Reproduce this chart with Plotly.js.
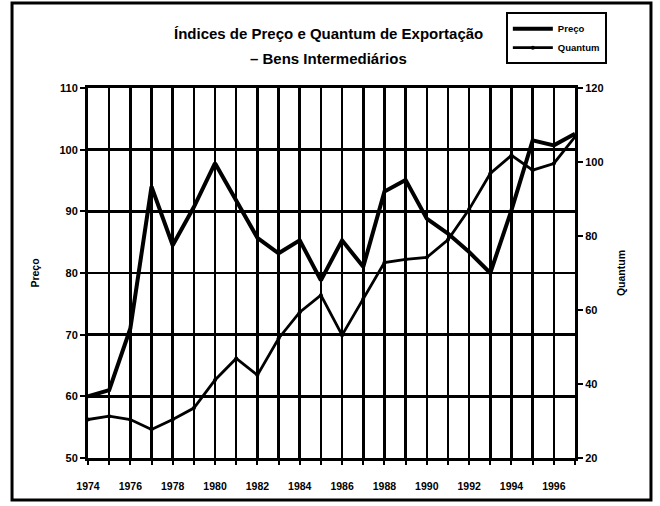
<!DOCTYPE html>
<html>
<head>
<meta charset="utf-8">
<script src="https://cdn.plot.ly/plotly-3.0.1.min.js"></script>
<style>html,body{margin:0;padding:0;background:#fff;}#chart{width:660px;height:506px;}</style>
</head>
<body>
<div id="chart"></div>
<script>
const years = [1974,1975,1976,1977,1978,1979,1980,1981,1982,1983,1984,1985,1986,1987,1988,1989,1990,1991,1992,1993,1994,1995,1996,1997];
const preco = [60,61,71,94,84.5,90.7,97.8,91.7,85.7,83.2,85.3,78.8,85.3,81,93.2,95.1,88.8,86.4,83.4,80,90.2,101.5,100.7,102.6];
const quantum = [30.4,31.3,30.4,27.7,30.4,33.5,41.1,46.9,42.4,52.3,59.4,64,53.2,63,72.8,73.7,74.2,79,87.2,96.9,101.8,97.8,99.6,106.8];
const xTickVals = years;
const xTickText = years.map(y => (y % 2 === 0 && y <= 1996) ? String(y) : '');
const leftTicks = [50,60,70,80,90,100,110];
const rightTicks = [20,40,60,80,100,120];
const titleLines = ['Índices de Preço e Quantum de Exportação', '– Bens Intermediários'];

const fontFam = 'Liberation Sans, Arial, sans-serif';
const traces = [
  {x: years, y: preco, name: 'Preço', type: 'scatter', mode: 'lines',
   line: {color: '#000', width: 4}, yaxis: 'y'},
  {x: years, y: quantum, name: 'Quantum', type: 'scatter', mode: 'lines+markers',
   line: {color: '#000', width: 2.8}, marker: {color: '#000', size: 4}, yaxis: 'y2'}
];
const titleFont = {family: fontFam, size: 15, weight: 'bold', color: '#000'};
const layout = {
  width: 660, height: 506,
  margin: {l: 88, r: 85, t: 88, b: 48},
  paper_bgcolor: '#fff', plot_bgcolor: '#fff',
  font: {family: fontFam, color: '#000', size: 10},
  showlegend: true,
  legend: {x: 0.858, y: 1.205, xanchor: 'left', yanchor: 'top',
           bordercolor: '#000', borderwidth: 2, bgcolor: '#fff',
           itemwidth: 40,
           font: {family: fontFam, size: 9.5, weight: 'bold'}, tracegroupgap: 0},
  annotations: [
    {text: titleLines[0], xref: 'paper', yref: 'paper', x: 0.493, y: 1.1486, xanchor: 'center', yanchor: 'middle',
     showarrow: false, font: titleFont},
    {text: titleLines[1], xref: 'paper', yref: 'paper', x: 0.493, y: 1.081, xanchor: 'center', yanchor: 'middle',
     showarrow: false, font: titleFont}
  ],
  xaxis: {range: [1974, 1997], tickvals: xTickVals, ticktext: xTickText,
          showgrid: true, gridcolor: '#000', gridwidth: 2.5,
          showline: true, linecolor: '#000', linewidth: 3, mirror: true,
          ticks: 'outside', ticklen: 4, tickwidth: 2, tickcolor: '#000', tickangle: 0,
          ticklabelstandoff: 12,
          tickfont: {family: fontFam, size: 10.5, weight: 'bold'}, zeroline: false, fixedrange: true},
  yaxis: {range: [50, 110], tickvals: leftTicks, showgrid: true, gridcolor: '#000', gridwidth: 2.5,
          showline: true, linecolor: '#000', linewidth: 3,
          ticks: 'outside', ticklen: 5, tickwidth: 2, tickcolor: '#000',
          tickfont: {family: fontFam, size: 11, weight: 'bold'}, zeroline: false,
          title: {text: 'Preço', standoff: 18, font: {family: fontFam, size: 10.5, weight: 'bold'}}},
  yaxis2: {range: [20, 120], tickvals: rightTicks, overlaying: 'y', side: 'right', showgrid: false,
          showline: true, linecolor: '#000', linewidth: 3,
          ticks: 'outside', ticklen: 5, tickwidth: 2, tickcolor: '#000',
          tickfont: {family: fontFam, size: 11, weight: 'bold'}, zeroline: false,
          title: {text: 'Quantum', standoff: 16, font: {family: fontFam, size: 10.5, weight: 'bold'}}},
  shapes: [
    {type: 'rect', xref: 'paper', yref: 'paper', x0: -0.156, x1: 1.156, y0: -0.1135, y1: 1.23,
     line: {color: '#000', width: 3}, fillcolor: 'rgba(0,0,0,0)', layer: 'below'}
  ]
};
Plotly.newPlot('chart', traces, layout, {displayModeBar: false, staticPlot: true});
</script>
</body>
</html>
